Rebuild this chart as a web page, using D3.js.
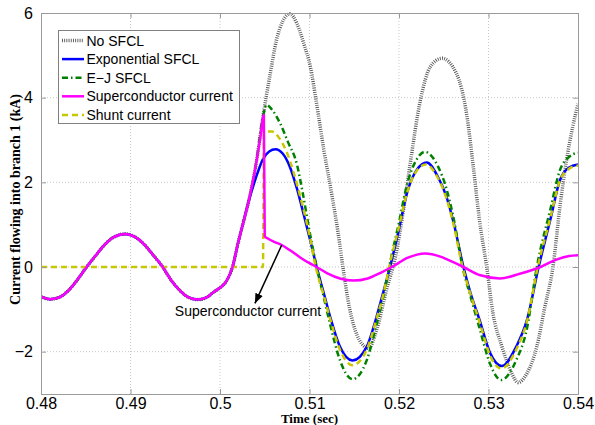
<!DOCTYPE html>
<html>
<head>
<meta charset="utf-8">
<script src="https://cdn.jsdelivr.net/npm/d3@7"></script>
<style>
  body { margin: 0; background: #fff; }
  text { font-family: "Liberation Sans", Arial, sans-serif; }
</style>
</head>
<body>
<div id="chart"></div>
<script>
// time (s) and current (kA)
const preFaultTime = [0.4800, 0.4810, 0.4820, 0.4830, 0.4840, 0.4851, 0.4860, 0.4870, 0.4880, 0.4894, 0.4905, 0.4915, 0.4925, 0.4936, 0.4945, 0.4955, 0.4965, 0.4975, 0.4985, 0.4993, 0.5000, 0.5007, 0.5014, 0.5020, 0.5026, 0.5032];
const preFaultCurrent = [-0.70, -0.76, -0.72, -0.57, -0.32, 0.00, 0.24, 0.50, 0.69, 0.78, 0.71, 0.54, 0.29, 0.00, -0.30, -0.55, -0.72, -0.77, -0.72, -0.59, -0.49, -0.34, 0.00, 0.55, 1.05, 1.55];

const noSfclTime = [0.5040, 0.5048, 0.5056, 0.5063, 0.5070, 0.5078, 0.5086, 0.5094, 0.5101, 0.5108, 0.5116, 0.5125, 0.5132, 0.5138, 0.5143, 0.5151, 0.5160, 0.5166, 0.5175, 0.5186, 0.5196, 0.5205, 0.5212, 0.5224, 0.5235, 0.5248, 0.5264, 0.5276, 0.5283, 0.5290, 0.5298, 0.5305, 0.5315, 0.5326, 0.5333, 0.5343, 0.5354, 0.5363, 0.5372, 0.5380, 0.5387, 0.5394, 0.5400];
const noSfclCurrent = [2.40, 3.55, 4.55, 5.35, 5.80, 5.98, 5.75, 5.25, 4.73, 3.85, 2.77, 1.70, 0.80, -0.10, -0.78, -1.49, -1.85, -1.92, -1.49, -0.54, 0.24, 1.35, 2.37, 3.95, 4.73, 4.93, 4.58, 3.55, 2.37, 1.10, 0.00, -1.09, -1.88, -2.51, -2.73, -2.51, -1.88, -0.94, 0.00, 1.45, 2.50, 3.30, 3.85];

const expTime = [0.5040, 0.5048, 0.5055, 0.5062, 0.5070, 0.5078, 0.5086, 0.5094, 0.5100, 0.5108, 0.5116, 0.5123, 0.5134, 0.5148, 0.5164, 0.5175, 0.5183, 0.5190, 0.5200, 0.5209, 0.5220, 0.5231, 0.5243, 0.5253, 0.5261, 0.5272, 0.5280, 0.5290, 0.5302, 0.5315, 0.5331, 0.5343, 0.5356, 0.5369, 0.5380, 0.5390, 0.5400];
const expCurrent = [2.10, 2.55, 2.73, 2.78, 2.68, 2.37, 1.85, 1.20, 0.70, 0.00, -0.62, -1.17, -1.88, -2.21, -1.88, -1.17, -0.55, 0.00, 0.90, 1.75, 2.30, 2.47, 2.15, 1.66, 1.05, 0.00, -0.62, -1.25, -2.04, -2.34, -1.88, -1.25, 0.00, 1.11, 2.06, 2.35, 2.42];

const ejTime = [0.5040, 0.5048, 0.5052, 0.5058, 0.5067, 0.5076, 0.5086, 0.5092, 0.5100, 0.5108, 0.5116, 0.5123, 0.5134, 0.5148, 0.5164, 0.5175, 0.5183, 0.5189, 0.5200, 0.5209, 0.5220, 0.5229, 0.5243, 0.5253, 0.5261, 0.5271, 0.5280, 0.5290, 0.5302, 0.5314, 0.5331, 0.5343, 0.5354, 0.5369, 0.5380, 0.5390, 0.5400];
const ejCurrent = [2.40, 3.55, 3.83, 3.72, 3.40, 2.95, 2.42, 1.80, 0.85, 0.00, -0.72, -1.35, -2.20, -2.65, -2.20, -1.35, -0.65, 0.00, 1.05, 1.95, 2.55, 2.72, 2.40, 1.85, 1.15, 0.00, -0.70, -1.45, -2.30, -2.67, -2.20, -1.45, 0.00, 1.35, 2.30, 2.60, 2.70];

const scTime = [0.5040, 0.5045, 0.5049, 0.5050, 0.5053, 0.5060, 0.5069, 0.5080, 0.5090, 0.5100, 0.5108, 0.5120, 0.5134, 0.5149, 0.5165, 0.5180, 0.5192, 0.5210, 0.5229, 0.5247, 0.5260, 0.5272, 0.5290, 0.5313, 0.5335, 0.5358, 0.5375, 0.5390, 0.5400];
const scCurrent = [2.40, 3.05, 3.59, 0.72, 0.68, 0.60, 0.52, 0.37, 0.22, 0.09, 0.00, -0.15, -0.27, -0.32, -0.27, -0.13, 0.00, 0.22, 0.32, 0.24, 0.12, 0.00, -0.19, -0.27, -0.16, 0.00, 0.17, 0.26, 0.28];

const shuntTime = [0.4800, 0.5048, 0.5049, 0.5054, 0.5058, 0.5066, 0.5075, 0.5082, 0.5089, 0.5100, 0.5107, 0.5116, 0.5123, 0.5134, 0.5148, 0.5164, 0.5175, 0.5183, 0.5189, 0.5200, 0.5209, 0.5220, 0.5230, 0.5243, 0.5253, 0.5261, 0.5271, 0.5280, 0.5290, 0.5302, 0.5314, 0.5331, 0.5343, 0.5355, 0.5369, 0.5380, 0.5390, 0.5400];
const shuntCurrent = [0.00, 0.00, 3.15, 3.20, 3.20, 3.05, 2.69, 2.25, 1.72, 0.75, 0.00, -0.68, -1.22, -1.95, -2.32, -1.95, -1.22, -0.60, 0.00, 0.95, 1.75, 2.28, 2.42, 2.12, 1.62, 1.00, 0.00, -0.65, -1.30, -2.10, -2.40, -1.95, -1.28, 0.00, 1.15, 2.05, 2.32, 2.40];

const xTicks = [0.48, 0.49, 0.50, 0.51, 0.52, 0.53, 0.54];
const yTicks = [-2, 0, 2, 4, 6];
const legendNames = ["No SFCL", "Exponential SFCL", "E\u2212J SFCL", "Superconductor current", "Shunt current"];

const width = 595, height = 425;
const margin = { top: 13, right: 17, bottom: 31, left: 41 };

const svg = d3.select("#chart").append("svg")
  .attr("width", width)
  .attr("height", height);

const x = d3.scaleLinear().domain([0.48, 0.54]).range([margin.left, width - margin.right]);
const y = d3.scaleLinear().domain([-3, 6]).range([height - margin.bottom, margin.top]);

const zip = (ts, vs) => ts.map((t, i) => ({ t: t, v: vs[i] }));
const pre = zip(preFaultTime, preFaultCurrent);

const series = [
  { name: legendNames[0], data: pre.concat(zip(noSfclTime, noSfclCurrent)), color: "#555", width: 3.5, dash: "0.9,1.3" },
  { name: legendNames[1], data: pre.concat(zip(expTime, expCurrent)), color: "#0000ff", width: 2.5, dash: null },
  { name: legendNames[2], data: pre.concat(zip(ejTime, ejCurrent)), color: "#008000", width: 2.5, dash: "6,3,1.5,3" },
  { name: legendNames[4], data: zip(shuntTime, shuntCurrent), color: "#c8c800", width: 2.5, dash: "6,4" },
  { name: legendNames[3], data: pre.concat(zip(scTime, scCurrent)), color: "#ff00ff", width: 2.5, dash: null }
];

// grid
const grid = svg.append("g").attr("stroke", "#c8c8c8").attr("stroke-dasharray", "1,2").attr("stroke-width", 1);
grid.selectAll("line.vx")
  .data(xTicks.slice(1, -1))
  .join("line")
  .attr("x1", d => x(d)).attr("x2", d => x(d))
  .attr("y1", y(-3)).attr("y2", y(6));
grid.selectAll("line.hy")
  .data(yTicks.filter(d => d < 6))
  .join("line")
  .attr("y1", d => y(d)).attr("y2", d => y(d))
  .attr("x1", x(0.48)).attr("x2", x(0.54));

// curves
const line = d3.line()
  .x(d => x(d.t))
  .y(d => y(d.v))
  .curve(d3.curveMonotoneX);

svg.append("defs").append("clipPath").attr("id", "clip")
  .append("rect")
  .attr("x", x(0.48)).attr("y", y(6) - 2)
  .attr("width", x(0.54) - x(0.48)).attr("height", y(-3) - y(6) + 2);

svg.append("g").attr("clip-path", "url(#clip)")
  .selectAll("path")
  .data(series)
  .join("path")
  .attr("fill", "none")
  .attr("stroke", d => d.color)
  .attr("stroke-width", d => d.width)
  .attr("stroke-dasharray", d => d.dash)
  .attr("stroke-linejoin", "round")
  .attr("d", d => line(d.data));

// axes
const xAxis = svg.append("g")
  .attr("transform", `translate(0,${y(-3)})`)
  .call(d3.axisBottom(x).tickValues(xTicks).tickSize(-5).tickPadding(4).tickFormat(d => String(+d.toFixed(2))));
const xAxisTop = svg.append("g")
  .attr("transform", `translate(0,${y(6)})`)
  .call(d3.axisTop(x).tickValues(xTicks).tickSize(-5).tickFormat(""));
const yAxis = svg.append("g")
  .attr("transform", `translate(${x(0.48)},0)`)
  .call(d3.axisLeft(y).tickValues(yTicks).tickSize(-5).tickPadding(8).tickFormat(d3.format("")));
const yAxisRight = svg.append("g")
  .attr("transform", `translate(${x(0.54)},0)`)
  .call(d3.axisRight(y).tickValues(yTicks).tickSize(-5).tickFormat(""));

[xAxis, xAxisTop, yAxis, yAxisRight].forEach(a => {
  a.select(".domain").attr("stroke", "#9a9a9a");
  a.selectAll(".tick line").attr("stroke", "#9a9a9a");
  a.selectAll(".tick text")
    .attr("fill", "#000")
    .style("font-family", "'Liberation Sans', Arial, sans-serif")
    .style("font-size", "16px");
});

// axis titles
svg.append("text")
  .attr("x", (x(0.48) + x(0.54)) / 2)
  .attr("y", 422.5)
  .attr("text-anchor", "middle")
  .style("font-family", "'Liberation Serif', 'Times New Roman', serif")
  .style("font-weight", "bold")
  .style("font-size", "13px")
  .text("Time (sec)");

svg.append("text")
  .attr("transform", `translate(19.5,${(y(-3) + y(6)) / 2 - 4}) rotate(-90)`)
  .attr("text-anchor", "middle")
  .style("font-family", "'Liberation Serif', 'Times New Roman', serif")
  .style("font-weight", "bold")
  .style("font-size", "14px")
  .text("Current flowing into branch 1 (kA)");

// legend
const legend = svg.append("g");
legend.append("rect")
  .attr("x", 58.5).attr("y", 30.5)
  .attr("width", 181).attr("height", 93)
  .attr("fill", "#fff")
  .attr("stroke", "#808080");

const legendItems = legendNames.map(n => series.find(s => s.name === n));
const row = legend.selectAll("g.row")
  .data(legendItems)
  .join("g")
  .attr("transform", (d, i) => `translate(0,${40.5 + i * 18.6})`);
row.append("line")
  .attr("x1", 62).attr("x2", 84)
  .attr("stroke", d => d.color)
  .attr("stroke-width", d => d.width)
  .attr("stroke-dasharray", d => d.dash);
row.append("text")
  .attr("x", 86.5)
  .attr("dy", "0.36em")
  .style("font-size", "14px")
  .text(d => d.name);

// annotation arrow
svg.append("defs").append("marker")
  .attr("id", "arrow")
  .attr("viewBox", "0 0 10 10")
  .attr("refX", 10).attr("refY", 5)
  .attr("markerWidth", 10).attr("markerHeight", 10)
  .attr("markerUnits", "userSpaceOnUse")
  .attr("orient", "auto")
  .append("path")
  .attr("d", "M0,1 L10,5 L0,9 Z")
  .attr("fill", "#000");

svg.append("line")
  .attr("x1", x(0.5069)).attr("y1", y(0.52))
  .attr("x2", x(0.5039)).attr("y2", y(-0.86))
  .attr("stroke", "#000")
  .attr("stroke-width", 1.5)
  .attr("marker-end", "url(#arrow)");

svg.append("text")
  .attr("x", x(0.50313))
  .attr("y", y(-1.05))
  .attr("dy", "0.36em")
  .attr("text-anchor", "middle")
  .style("font-size", "14px")
  .text("Superconductor current");
</script>
</body>
</html>
